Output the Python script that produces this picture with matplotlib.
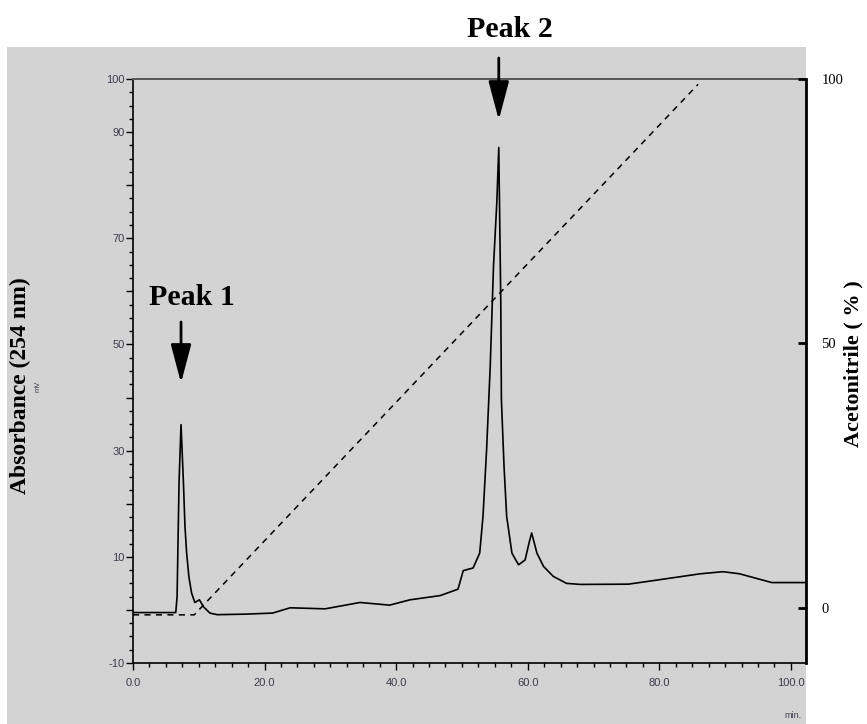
import matplotlib
matplotlib.use("Agg")
import matplotlib.pyplot as plt
from matplotlib.patches import Rectangle, FancyArrowPatch
from matplotlib.ticker import MultipleLocator, FixedLocator

# ---- data ----
time_min = [0, 6.5, 6.7, 7.0, 7.3, 7.65, 7.9, 8.15, 8.5, 8.9, 9.4, 10.1, 10.7, 11.7,
            12.8, 17, 21.2, 23.9, 29.2, 34.5, 39, 42.1, 46.7, 49.4, 50.2, 51.7, 52.7,
            53.2, 53.75, 54.3, 54.8, 55.3, 55.6, 55.9, 56.0, 56.4, 56.8, 57.6, 58.6,
            59.6, 60.2, 60.6, 61.4, 62.4, 63.9, 65.9, 68.0, 75.3, 80.1, 86.2, 89.7,
            92.2, 97.1, 102.3]
absorbance_mv = [-0.5, -0.5, 2.5, 24, 34.9, 24.5, 15.7, 10.75, 6.2, 3.2, 1.4, 1.9, 0.6,
                 -0.6, -0.9, -0.8, -0.6, 0.4, 0.2, 1.4, 0.9, 1.9, 2.7, 3.9, 7.4, 7.9,
                 10.7, 17.6, 30.2, 45.9, 64.8, 76.7, 87.1, 58.5, 39.6, 27.0, 17.6, 10.7,
                 8.5, 9.4, 12.6, 14.5, 10.7, 8.2, 6.3, 5.0, 4.8, 4.85, 5.7, 6.8, 7.2,
                 6.8, 5.15, 5.15]

gradient_time = [0, 9.3, 85.9]
gradient_pct = [-1.3, -1.3, 99.0]

left_ticks = [-10, 0, 10, 20, 30, 40, 50, 60, 70, 80, 90, 100]
left_ticklabels = ["-10", "", "10", "", "30", "", "50", "", "70", "", "90", "100"]
x_ticks = [0, 20, 40, 60, 80, 100]
x_ticklabels = ["0.0", "20.0", "40.0", "60.0", "80.0", "100.0"]
right_ticks = [0, 50, 100]
right_ticklabels = ["0", "50", "100"]

peaks = [("Peak 1", 7.3), ("Peak 2", 55.6)]

# ---- figure ----
W, H = 867, 724
fig = plt.figure(figsize=(W / 100, H / 100), dpi=100)
gray = "#d3d3d3"
bg = Rectangle((7 / W, 0), (806 - 7) / W, 1 - 47 / H,
               transform=fig.transFigure, facecolor=gray, edgecolor="none")
bg.set_zorder(-10)
fig.add_artist(bg)

l, r, t, b = 133, 806, 79, 663
ax = fig.add_axes([l / W, 1 - b / H, (r - l) / W, (b - t) / H])
ax.set_zorder(1)
ax.set_facecolor(gray)
ax.set_xlim(0, 102.3)
ax.set_ylim(-10, 100)

tick_font = ["Liberation Sans Narrow", "Liberation Sans", "DejaVu Sans"]
tick_color = "#3c3c4c"
serif = ["Liberation Serif", "DejaVu Serif"]

ax.plot(time_min, absorbance_mv, color="black", lw=1.2, zorder=3)

ax.xaxis.set_major_locator(FixedLocator(x_ticks))
ax.set_xticklabels(x_ticklabels, fontfamily=tick_font, fontsize=8, color=tick_color)
ax.xaxis.set_minor_locator(MultipleLocator(2.5))
ax.yaxis.set_major_locator(FixedLocator(left_ticks))
ax.set_yticklabels(left_ticklabels, fontfamily=tick_font, fontsize=8, color=tick_color)
ax.yaxis.set_minor_locator(MultipleLocator(2.5))
ax.tick_params(axis="both", which="major", length=5, width=1, color="black", pad=3)
ax.tick_params(axis="both", which="minor", length=3, width=1, color="black")
ax.tick_params(axis="x", which="major", pad=6)
ax.tick_params(axis="y", which="major", pad=1)
ax.tick_params(right=False)

for s in ["left", "bottom"]:
    ax.spines[s].set_color("black")
    ax.spines[s].set_linewidth(1.2)
ax.spines["top"].set_color("#555555")
ax.spines["top"].set_linewidth(1.4)
ax.spines["right"].set_visible(False)

ax2 = ax.twinx()
ax2.set_zorder(2)
ax2.patch.set_visible(False)
ax2.set_ylim(-10.4, 100)
ax2.plot(gradient_time, gradient_pct, color="black", lw=1.1, ls=(0, (4, 3.5)), zorder=3)
ax2.set_yticks(right_ticks)
ax2.set_yticklabels(right_ticklabels, fontfamily=serif, fontsize=10.5, color="black")
ax2.tick_params(axis="y", direction="in", length=6, width=2, pad=11)
for s in ["left", "top", "bottom"]:
    ax2.spines[s].set_visible(False)
ax2.spines["right"].set_color("black")
ax2.spines["right"].set_linewidth(2)

# axis labels
fig.text(20 / W, 1 - 386 / H, "Absorbance (254 nm)", rotation=90, ha="center",
         va="center", fontfamily=serif, fontweight="bold", fontsize=17)
fig.text(38 / W, 1 - 386 / H, "mV", rotation=90, ha="center", va="center",
         fontfamily=tick_font, fontsize=5.5, color=tick_color)
fig.text(853 / W, 1 - 364 / H, "Acetonitrile ( % )", rotation=90, ha="center",
         va="center", fontfamily=serif, fontweight="bold", fontsize=16)
fig.text(793 / W, 1 - 716 / H, "min.", ha="center", va="center",
         fontfamily=tick_font, fontsize=6.5, color=tick_color)

# peak annotations (label / arrow positions in figure pixels)
peak_label_y = [305, 37]
arrow_top = [322, 58]
arrow_tip = [383, 120]
for (name, tpk), ly, at, ap in zip(peaks, peak_label_y, arrow_top, arrow_tip):
    xd = ax.transData.transform((tpk, 0))[0]
    xf = xd / fig.dpi / fig.get_figwidth()
    fig.add_artist(FancyArrowPatch(
        (xf, 1 - at / H), (xf, 1 - ap / H), transform=fig.transFigure,
        arrowstyle="-|>,head_length=1.7,head_width=0.45", color="black", lw=2,
        shrinkA=0, shrinkB=0, mutation_scale=14, zorder=20))
    fig.text(xf + 11 / W, 1 - ly / H, name, ha="center", va="baseline",
             fontfamily=serif, fontweight="bold", fontsize=21.5, zorder=20)

fig.savefig("out.png", dpi=100, facecolor="white")
